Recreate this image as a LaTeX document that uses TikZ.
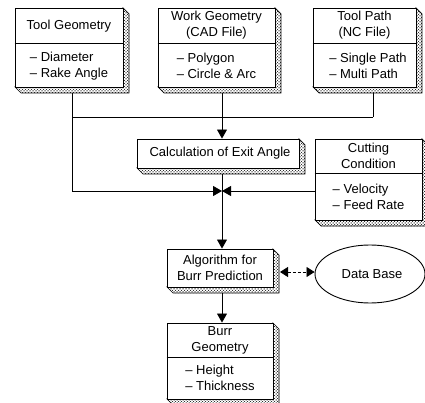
\documentclass[tikz,border=0pt]{standalone}
\usepackage{fontspec}
\setmainfont{Liberation Sans}
\usetikzlibrary{arrows.meta,shapes.geometric,patterns}
\tikzset{
  frame/.style={draw,line width=0.9pt,fill=white,inner sep=0pt},
  lbl/.style={align=center,inner sep=0pt,font=\fontsize{13}{16}\selectfont},
  lst/.style={align=left,inner sep=0pt,font=\fontsize{13}{16}\selectfont},
  slabfill/.style={draw=black,line width=0.7pt,pattern=crosshatch dots,pattern color=black,
    postaction={pattern=dots,pattern color=black}},
  conn/.style={line width=0.8pt},
  tip/.style={-{Triangle[length=9pt,width=10pt]}},
  twotips/.style={{Triangle[length=8pt,width=10pt]}-{Triangle[length=8pt,width=10pt]}},
}
\begin{document}
\begin{tikzpicture}[x=1pt,y=-1pt]
\useasboundingbox (0,0) rectangle (425,403);

% junction coordinates
\coordinate (j1) at (72,117);
\coordinate (j2) at (373,117);
\coordinate (jl) at (72,191);
\coordinate (jm) at (222,191);
\coordinate (dl) at (280,272);

% depths (drawn first, boxes on top)
\filldraw[slabfill] (123,8) -- (129,14) -- (129,93) -- (21,93) -- (15,87) -- (123,87) -- cycle;
\filldraw[slabfill] (275,8) -- (281,14) -- (281,93) -- (164,93) -- (158,87) -- (275,87) -- cycle;
\filldraw[slabfill] (416,8) -- (422,14) -- (422,93) -- (319,93) -- (313,87) -- (416,87) -- cycle;
\filldraw[slabfill] (299,139) -- (305,145) -- (305,174) -- (143,174) -- (137,168) -- (299,168) -- cycle;
\filldraw[slabfill] (422,139) -- (428,145) -- (428,226) -- (321,226) -- (315,220) -- (422,220) -- cycle;
\filldraw[slabfill] (273,249) -- (279,255) -- (279,293) -- (173,293) -- (167,287) -- (273,287) -- cycle;
\filldraw[slabfill] (273,323) -- (279,329) -- (279,405) -- (173,405) -- (167,399) -- (273,399) -- cycle;

% boxes
\node[frame,minimum width=108pt,minimum height=79pt] (tg) at (69,47.5) {};
\node[frame,minimum width=117pt,minimum height=79pt] (wg) at (216.5,47.5) {};
\node[frame,minimum width=103pt,minimum height=79pt] (tp) at (364.5,47.5) {};
\node[frame,minimum width=162pt,minimum height=29pt] (calc) at (218,153.5) {};
\node[frame,minimum width=107pt,minimum height=81pt] (cc) at (368.5,179.5) {};
\node[frame,minimum width=106pt,minimum height=38pt] (algo) at (220,268) {};
\node[frame,minimum width=106pt,minimum height=76pt] (burr) at (220,361) {};
\node[frame,ellipse,minimum width=110pt,minimum height=58pt] (db) at (370,274) {};

\draw[line width=0.8pt] (tg.west |- 0,43) -- (tg.east |- 0,43);
\draw[line width=0.8pt] (wg.west |- 0,43) -- (wg.east |- 0,43);
\draw[line width=0.8pt] (tp.west |- 0,43) -- (tp.east |- 0,43);
\draw[line width=0.8pt] (cc.west |- 0,173) -- (cc.east |- 0,173);
\draw[line width=0.8pt] (burr.west |- 0,357) -- (burr.east |- 0,357);

% texts
\node[lbl] (tgt) at (69,26) {Tool Geometry};
\node[lst] (tgi) at (69,66) {\textendash{} Diameter\\\textendash{} Rake Angle};
\node[lbl] (wgt) at (216.5,25.5) {Work Geometry\\(CAD File)};
\node[lst] (wgi) at (216.5,66) {\textendash{} Polygon\\\textendash{} Circle \& Arc};
\node[lbl] (tpt) at (364.5,25.5) {Tool Path\\(NC File)};
\node[lst] (tpi) at (368,66) {\textendash{} Single Path\\\textendash{} Multi Path};
\node[lbl] (calct) at (220,153.5) {Calculation of Exit Angle};
\node[lbl] (cct) at (368.5,156) {Cutting\\Condition};
\node[lst] (cci) at (368.5,196.5) {\textendash{} Velocity\\\textendash{} Feed Rate};
\node[lbl] (algot) at (220,268) {Algorithm for\\Burr Prediction};
\node[lbl] (burrt) at (220,340) {Burr\\Geometry};
\node[lst] (burri) at (220,378) {\textendash{} Height\\\textendash{} Thickness};
\node[lbl] (dbt) at (372,274) {Data Base};

% connectors
\draw[conn] (j1 |- 0,93) -- (jl);
\draw[conn] (j1) -- (j2);
\draw[conn] (j2 |- 0,93) -- (j2);
\draw[conn,tip] (jm |- 0,93) -- (jm |- calc.north);
\draw[conn,tip] (jl) -- (jm);
\draw[conn,tip] (cc.west |- jm) -- (jm);
\draw[conn,tip] (jm |- 0,174) -- (jm |- algo.north);
\draw[conn,tip] (jm |- 0,293) -- (jm |- burr.north);
\draw[conn,twotips,dash pattern=on 3pt off 2pt] (dl) -- (dl -| db.west);
\end{tikzpicture}
\end{document}
